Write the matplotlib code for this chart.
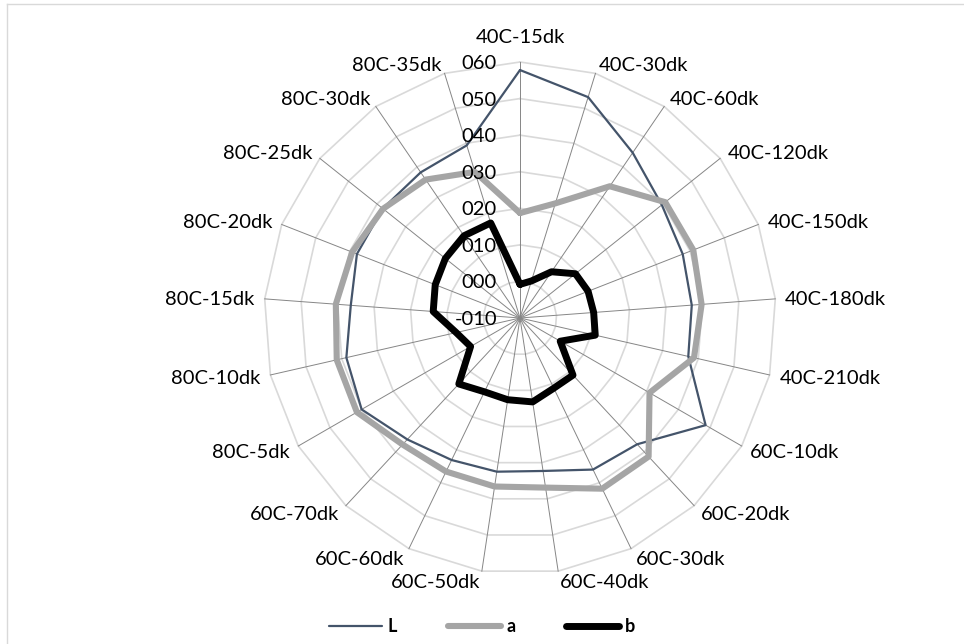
import matplotlib
matplotlib.use("Agg")
import numpy as np
import matplotlib.pyplot as plt
from matplotlib.lines import Line2D

plt.rcParams["font.family"] = ["Lato", "DejaVu Sans"]

# Categories, clockwise from the top
categories = [
    "40C-15dk", "40C-30dk", "40C-60dk", "40C-120dk", "40C-150dk", "40C-180dk",
    "40C-210dk", "60C-10dk", "60C-20dk", "60C-30dk", "60C-40dk", "60C-50dk",
    "60C-60dk", "60C-70dk", "80C-5dk", "80C-10dk", "80C-15dk", "80C-20dk",
    "80C-25dk", "80C-30dk", "80C-35dk",
]

L_vals = [57.8, 53.2, 44.7, 39.6, 37.8, 37.1, 37.2, 48.6, 37.1, 36.0, 32.3,
          32.5, 33.1, 35.3, 40.0, 38.7, 36.4, 37.9, 38.0, 38.2, 39.4]
a_vals = [18.7, 22.8, 33.6, 40.8, 40.9, 39.8, 38.8, 30.9, 41.7, 41.8, 36.9,
          36.6, 36.6, 37.2, 41.5, 41.4, 40.5, 39.3, 37.9, 35.8, 31.8]
b_vals = [-0.8, 0.6, 5.3, 9.4, 10.0, 10.2, 11.1, 2.7, 11.3, 11.3, 13.2,
          12.6, 12.4, 14.6, 5.6, 7.9, 13.8, 14.9, 16.1, 17.2, 17.2]

r_ticks = [-10, 0, 10, 20, 30, 40, 50, 60]

series_names = ["L", "a", "b"]
series_colors = ["#44546A", "#A5A5A5", "#000000"]
series_widths = [1.6, 4.4, 5.0]

W, H = 964, 644
fig = plt.figure(figsize=(W / 100, H / 100), dpi=100)
fig.patch.set_facecolor("white")

# chart-area border (top and left edges fall inside the canvas)
fig.add_artist(Line2D([6.5 / W, 6.5 / W], [0, 1 - 4 / H], transform=fig.transFigure,
                      color="#D9D9D9", lw=1.0))
fig.add_artist(Line2D([6.5 / W, 1], [1 - 4 / H, 1 - 4 / H], transform=fig.transFigure,
                      color="#D9D9D9", lw=1.0))

cx, cy, R = 520, 318, 256
ax = fig.add_axes([(cx - R) / W, (H - cy - R) / H, 2 * R / W, 2 * R / H],
                  projection="polar")
ax.set_theta_zero_location("N")
ax.set_theta_direction(-1)
ax.set_ylim(r_ticks[0], r_ticks[-1])
ax.grid(False)
ax.set_xticks([])
ax.set_yticks([])
ax.spines["polar"].set_visible(False)
ax.patch.set_alpha(0)

n = len(categories)
theta = np.arange(n) * 2 * np.pi / n


def closed(arr):
    arr = np.asarray(arr, dtype=float)
    return np.append(arr, arr[0])


# polygonal rings
for r in r_ticks[1:]:
    ax.plot(closed(theta), [r] * (n + 1), color="#D9D9D9", lw=1.2, zorder=1,
            clip_on=False)
# spokes
for t in theta:
    ax.plot([t, t], [r_ticks[0], r_ticks[-1]], color="#868686", lw=0.7,
            zorder=1.5, clip_on=False)

# data series
handles = []
for name, vals, col, lw in zip(series_names, [L_vals, a_vals, b_vals],
                               series_colors, series_widths):
    ax.plot(closed(theta), closed(vals), color=col, lw=lw, zorder=3,
            solid_joinstyle="round", solid_capstyle="round", clip_on=False)
    handles.append(Line2D([], [], color=col, lw=lw, solid_capstyle="round"))

# value axis labels along the top spoke
for v in r_ticks:
    txt = ("-" if v < 0 else "") + f"{abs(v):03d}"
    ax.annotate(txt, xy=(0, v), xytext=(-23, -7), textcoords="offset pixels",
                ha="right", va="baseline", fontsize=14.5, color="#000000",
                zorder=10, annotation_clip=False)

# category labels
for t, cat in zip(theta, categories):
    s, c = np.sin(t), np.cos(t)
    if abs(s) < 0.1:
        ha, dx, dy = "center", 0, 26 - 7
    else:
        ha = "left" if s > 0 else "right"
        dx, dy = 10 * s, 10 * c - 7
    ax.annotate(cat, xy=(t, r_ticks[-1]), xytext=(dx, dy),
                textcoords="offset pixels", ha=ha, va="baseline", fontsize=14.5,
                color="#000000", annotation_clip=False)

fig.legend(handles, series_names, loc="center",
           bbox_to_anchor=(482 / W, 1 - 627 / H), ncol=3, frameon=False,
           prop=dict(family="Lato", weight="bold", size=13),
           handlelength=2.95, handletextpad=0.3, columnspacing=2.8)

fig.savefig("out.png", dpi=100, facecolor="white")
